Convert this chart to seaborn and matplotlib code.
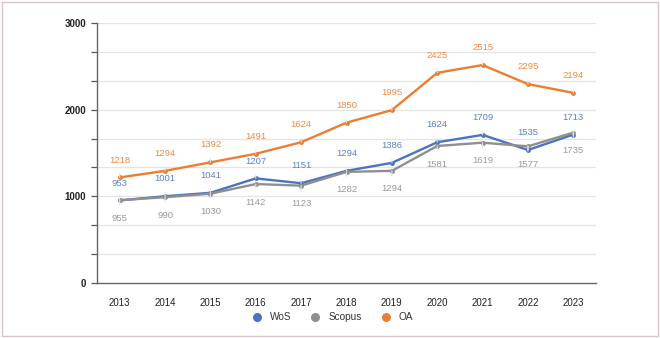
import matplotlib
matplotlib.use("Agg")
import matplotlib.pyplot as plt
import pandas as pd
import seaborn as sns
from matplotlib.lines import Line2D
from matplotlib.patches import Rectangle

YEARS = [2013, 2014, 2015, 2016, 2017, 2018, 2019, 2020, 2021, 2022, 2023]
WOS = [953, 1001, 1041, 1207, 1151, 1294, 1386, 1624, 1709, 1535, 1713]
SCOPUS = [955, 990, 1030, 1142, 1123, 1282, 1294, 1581, 1619, 1577, 1735]
OA = [1218, 1294, 1392, 1491, 1624, 1850, 1995, 2425, 2515, 2295, 2194]
SERIES = ["WoS", "Scopus", "OA"]

COLORS = {"WoS": "#4a74c0", "Scopus": "#8f8f8f", "OA": "#ed7d31"}
LABEL_COLORS = {"WoS": "#5b82c8", "Scopus": "#9a9a9a", "OA": "#ef8a45"}
LABEL_OFFSET = {"WoS": 12.5, "Scopus": -13, "OA": 12.5}


def main() -> None:
    sns.set_theme(style="white")
    plt.rcParams["font.family"] = ["Liberation Sans", "DejaVu Sans"]

    df = pd.DataFrame({"year": YEARS, "WoS": WOS, "Scopus": SCOPUS, "OA": OA})
    long = df.melt(id_vars="year", value_vars=SERIES, var_name="source", value_name="count")

    fig = plt.figure(figsize=(6.6, 3.38), dpi=100)
    ax = fig.add_axes([97 / 660, 1 - 283 / 338, (596 - 97) / 660, (283 - 23) / 338])

    for v in [i * 1000 / 3 for i in range(1, 10)]:
        ax.axhline(v, color="#e4e4e4", lw=0.9, zorder=0)

    sns.lineplot(data=long, x="year", y="count", hue="source", hue_order=SERIES,
                 palette=COLORS, marker="o", markersize=3.5, markeredgewidth=0,
                 linewidth=1.7, legend=False, ax=ax, zorder=3)

    for name in SERIES:
        for x, y in zip(df["year"], df[name]):
            off = LABEL_OFFSET[name]
            ax.annotate(str(y), xy=(x, y), xytext=(0, off), textcoords="offset points",
                        ha="center", va="center",
                        fontsize=6.8, color=LABEL_COLORS[name], zorder=4,
                        arrowprops=dict(arrowstyle="-", color="#e6e6e6", lw=0.8,
                                        shrinkA=4, shrinkB=0))

    ax.set_xlim(2012.5, 2023.5)
    ax.set_ylim(0, 3000)
    ax.set_yticks([i * 1000 / 3 for i in range(0, 10)])
    ax.set_yticklabels(["0", "", "", "1000", "", "", "2000", "", "", "3000"])
    ax.set_xticks(YEARS)
    ax.set_xticklabels([str(y) for y in YEARS])
    ax.set_xlabel("")
    ax.set_ylabel("")
    ax.tick_params(axis="y", left=True, length=4, width=0.9, color="#555555",
                   labelsize=7, labelcolor="#222222", pad=4)
    ax.tick_params(axis="x", bottom=False, labelsize=7, labelcolor="#222222", pad=5)
    for lab in ax.get_yticklabels():
        lab.set_fontweight("bold")
    for s in ["top", "right"]:
        ax.spines[s].set_visible(False)
    for s in ["left", "bottom"]:
        ax.spines[s].set_color("#666666")
        ax.spines[s].set_linewidth(1.0)

    handles = [Line2D([0], [0], marker="o", linestyle="", markersize=6.5,
                      markerfacecolor=COLORS[n], markeredgewidth=0) for n in SERIES]
    fig.legend(handles, SERIES, loc="center", bbox_to_anchor=(330 / 660, 1 - 317 / 338),
               ncol=3, frameon=False, fontsize=7.2, handletextpad=0.3, columnspacing=1.4,
               labelcolor="#333333")

    fig.add_artist(Rectangle((2 / 660, 2 / 338), 656 / 660, 334 / 338, transform=fig.transFigure,
                             fill=False, edgecolor="#d8c4c9", lw=1.0))

    fig.savefig("out.png", dpi=100)
    plt.close(fig)


if __name__ == "__main__":
    main()
